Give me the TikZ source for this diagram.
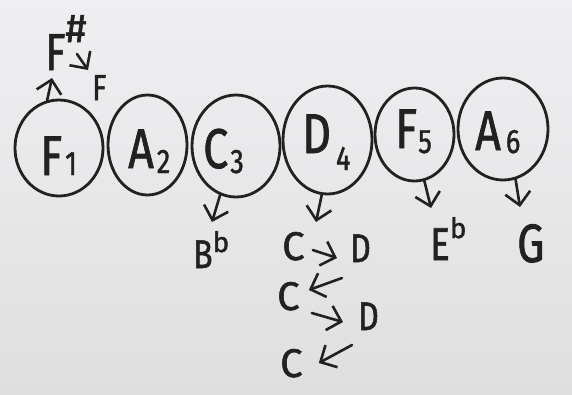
\documentclass[tikz,border=0pt]{standalone}
\usepackage{fontspec}
\setmainfont{Fira Sans}[FakeBold=1.4]
\usetikzlibrary{shapes.geometric,arrows.meta,calc}

\definecolor{ink}{RGB}{34,32,32}
\definecolor{paperTop}{RGB}{239,239,242}
\definecolor{paperBot}{RGB}{224,223,223}

% narrow, hand-lettered proportions
\newcommand\slim[1]{\scalebox{0.8}[1]{#1}}
\newcommand\idx[1]{{\fontsize{34}{34}\selectfont\slim{#1}}}

\begin{document}
\begin{tikzpicture}[x=1pt,y=-1pt,
  ring/.style={ellipse, draw=ink, line width=2.8pt, inner sep=0pt},
  txt/.style={text=ink, inner sep=0pt, anchor=base west},
  big/.style={txt, font=\fontsize{56}{56}\selectfont},
  mid/.style={txt, font=\fontsize{40}{40}\selectfont},
  sml/.style={txt, font=\fontsize{36}{36}\selectfont},
  arr/.style={draw=ink, line width=2.6pt, line cap=round, line join=round,
    -{Straight Barb[length=7pt,width=14pt,scale=1.8]}}]

  \shade[top color=paperTop, bottom color=paperBot] (0,0) rectangle (572,394);
  \useasboundingbox (0,0) rectangle (572,394);

  % the six circled chord tones
  \node[ring, minimum width=88pt, minimum height=96pt]  (f1) at (59,148)   {};
  \node[ring, minimum width=79pt, minimum height=100pt] (a2) at (147.5,145) {};
  \node[ring, minimum width=88pt, minimum height=102pt] (c3) at (236,146)  {};
  \node[ring, minimum width=89pt, minimum height=108pt] (d4) at (327.5,140) {};
  \node[ring, minimum width=79pt, minimum height=93pt]  (f5) at (414.5,134.5) {};
  \node[ring, minimum width=90pt, minimum height=102pt] (a6) at (503,129)  {};

  % names inside the circles
  \node[big] (lf1) at (40,175)  {\slim{F}\kern3pt\idx{1}};
  \node[big] (la2) at (128,168) {\slim{A}\kern3pt\raisebox{-5pt}{\idx{2}}};
  \node[big] (lc3) at (203,168) {\slim{C}\kern2pt\raisebox{-5pt}{\idx{3}}};
  \node[big] (ld4) at (302,153) {\slim{D}\kern5pt\raisebox{-17pt}{\idx{4}}};
  \node[big] (lf5) at (395,148) {\slim{F}\kern1pt\raisebox{-5pt}{\idx{5}}};
  \node[big] (la6) at (475,150) {\slim{A}\kern5pt\raisebox{-3pt}{\idx{6}}};

  % above the first circle
  \node[txt, font=\fontsize{52}{52}\selectfont] (fs) at (45,70)
    {\slim{F}\raisebox{28pt}{\fontsize{40}{40}\selectfont\#}};
  \node[sml] (fn) at (92,100) {\slim{F}};

  % below the circles
  \node[mid] (bb) at (193,268) {\slim{B}\raisebox{16pt}{\fontsize{28}{28}\selectfont b}};
  \node[mid] (c1) at (282,260) {C};
  \node[mid] (d1) at (350,262) {\slim{D}};
  \node[mid] (c2) at (277,310) {C};
  \node[mid] (d2) at (358,330) {\slim{D}};
  \node[mid] (c5) at (280,377) {C};
  \node[txt, font=\fontsize{46}{46}\selectfont] (eb) at (430,260)
    {\slim{E}\raisebox{22pt}{\fontsize{28}{28}\selectfont b}};
  \node[txt, font=\fontsize{54}{54}\selectfont] (g) at (517,262) {\slim{G}};

  % arrows
  \draw[arr] (f1.104) -- ($(fs.base west)+(7,8)$);
  \draw[arr] ($(fs.base west)+(32,-16)$) -- ($(fn.base west)+(-4,-30)$);

  \draw[arr] (c3.-108) -- ($(bb.base west)+(19,-46)$);
  \draw[arr] (d4.-96)  -- ($(c1.base west)+(34,-38)$);
  \draw[arr] (f5.-78)  -- ($(eb.base west)+(1,-52)$);
  \draw[arr] (a6.-76)  -- ($(g.base west)+(3,-55)$);

  \draw[arr] ($(c1.base east)+(8,-10)$)  -- ($(d1.base west)+(-13,-4)$);
  \draw[arr] ($(d1.base west)+(-8,16)$)  -- ($(c2.base east)+(9,-20)$);
  \draw[arr] ($(c2.base east)+(12,3)$)   -- ($(d2.base west)+(-15,-8)$);
  \draw[arr] ($(d2.base west)+(-6,15)$)  -- ($(c5.base east)+(16,-14)$);
\end{tikzpicture}
\end{document}
